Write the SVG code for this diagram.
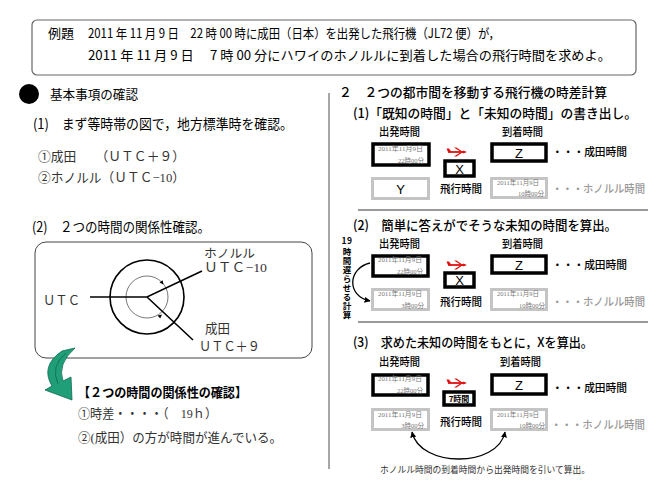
<svg xmlns="http://www.w3.org/2000/svg" xmlns:xlink="http://www.w3.org/1999/xlink" width="669" height="489" viewBox="0 0 669 489">
<style>
text{font-family:"Noto Sans CJK JP","Liberation Sans",sans-serif;fill:#000}
.ser{font-family:"Liberation Serif","Noto Sans CJK JP",serif;fill:#333}
.h13{font-size:13px}
.h14{font-size:14px}
.sub{font-size:13px;font-weight:500}
.lbl{font-size:11px;font-weight:500}
.vt{font-size:8.5px;font-weight:700}
.tiny{font-family:"Liberation Serif","Noto Sans CJK JP",serif;font-size:6.5px;fill:#777}
.big{font-family:"Liberation Sans",sans-serif;font-size:13px;text-anchor:middle}
.gtx{fill:#999}
.blk{fill:#fff;stroke:#000;stroke-width:3.5}
.gry{fill:#fff;stroke:#c4c4c4;stroke-width:3}
.sep{stroke:#9a9a9a;stroke-width:2}
.con{fill:none;stroke:#000;stroke-width:1.3}
</style>
<defs>
<marker id="ah" viewBox="0 0 10 10" refX="9" refY="5" markerWidth="6" markerHeight="6" orient="auto-start-reverse" markerUnits="userSpaceOnUse">
<path d="M0,0 L10,5 L0,10 Z" fill="#000"/>
</marker>
<g id="plane">
<path d="M0,0 H17" stroke="#e01010" stroke-width="1.8"/>
<path d="M19,0 L15,-1.5 L15,1.5 Z" fill="#e01010"/>
<path d="M13,0 L6,-4.5 L8.5,-4.5 L15,0 L8.5,4.5 L6,4.5 Z" fill="#e01010"/>
<path d="M0,0 L-1.5,-3.5 L1,-3.5 L3.5,0 Z" fill="#e01010"/>
</g>
</defs>
<rect width="669" height="489" fill="#fff"/>

<g id="header">
<rect x="32" y="20" width="604" height="55" rx="5" fill="#fff" stroke="#666" stroke-width="1.2"/>
<text x="48" y="38" class="h13">例題</text>
<text x="88" y="38" class="h13" textLength="412" lengthAdjust="spacingAndGlyphs">2011 年 11 月 9 日　22 時 00 時に成田（日本）を出発した飛行機（JL72 便）が，</text>
<text x="88" y="60" class="h13" textLength="523" lengthAdjust="spacingAndGlyphs">2011 年 11 月 9 日　 7 時 00 分にハワイのホノルルに到着した場合の飛行時間を求めよ。</text>
</g>

<g id="left-basics">
<circle cx="29" cy="94" r="10" fill="#000"/>
<text x="50" y="99" class="h13" textLength="88" lengthAdjust="spacingAndGlyphs">基本事項の確認</text>
<text x="33" y="129" class="h14" textLength="260" lengthAdjust="spacingAndGlyphs">(1)　まず等時帯の図で，地方標準時を確認。</text>
<text x="38" y="161" class="ser h13" textLength="147" lengthAdjust="spacingAndGlyphs">①成田　　（ＵＴＣ＋９）</text>
<text x="38" y="182" class="ser h13" textLength="147" lengthAdjust="spacingAndGlyphs">②ホノルル（ＵＴＣ−10）</text>
<text x="32" y="232" class="h14" textLength="178" lengthAdjust="spacingAndGlyphs">(2)　２つの時間の関係性確認。</text>
</g>

<g id="utc-diagram">
<rect x="35" y="242" width="277" height="116" rx="11" fill="#fff" stroke="#444" stroke-width="1"/>
<circle cx="147" cy="297" r="37" fill="none" stroke="#000" stroke-width="1.6"/>
<circle cx="147" cy="297" r="21" fill="none" stroke="#555" stroke-width="0.8"/>
<path d="M90,297 H147 L202,271 M147,297 L193,340" fill="none" stroke="#000" stroke-width="1.6"/>
<path d="M163.5,284.5 L162.6,280.2 L159.5,282.6 Z M162,314.6 L160.2,318.6 L157.6,315.6 Z" fill="#000"/>
<text x="43" y="305" class="ser h13" textLength="37" lengthAdjust="spacingAndGlyphs">ＵＴＣ</text>
<text x="204" y="258" class="ser" font-size="12" textLength="51" lengthAdjust="spacingAndGlyphs">ホノルル</text>
<text x="204" y="272" class="ser h13" textLength="63" lengthAdjust="spacingAndGlyphs">ＵＴＣ−10</text>
<text x="205" y="333" class="ser h13" textLength="25" lengthAdjust="spacingAndGlyphs">成田</text>
<text x="199" y="351" class="ser h13" textLength="61" lengthAdjust="spacingAndGlyphs">ＵＴＣ＋９</text>
</g>

<g id="relation-summary">
<text x="78" y="397" class="h13" font-weight="700" textLength="169" lengthAdjust="spacingAndGlyphs">【２つの時間の関係性の確認】</text>
<text x="78" y="418" class="ser h13" textLength="139" lengthAdjust="spacingAndGlyphs">①時差・・・・（　19ｈ）</text>
<text x="78" y="442" class="ser h13" textLength="204" lengthAdjust="spacingAndGlyphs">②(成田）の方が時間が進んでいる。</text>
</g>

<g id="dividers">
<line x1="329" y1="93" x2="329" y2="469" stroke="#888" stroke-width="1.5"/>
<line x1="358" y1="210" x2="648" y2="210" class="sep"/>
<line x1="358" y1="322" x2="648" y2="322" class="sep"/>
</g>

<g id="right-headings">
<text x="339" y="97" class="sub" textLength="268" lengthAdjust="spacingAndGlyphs">２　２つの都市間を移動する飛行機の時差計算</text>
<text x="353" y="118" class="sub" textLength="284" lengthAdjust="spacingAndGlyphs">(1)「既知の時間」と「未知の時間」の書き出し。</text>
<text x="353" y="230" class="sub" textLength="264" lengthAdjust="spacingAndGlyphs">(2)　簡単に答えがでそうな未知の時間を算出。</text>
<text x="353" y="347" class="sub" textLength="240" lengthAdjust="spacingAndGlyphs">(3)　求めた未知の時間をもとに，Xを算出。</text>
</g>

<!-- Section 1 -->
<g id="s1-labels">
<text x="379" y="136" class="lbl" textLength="41" lengthAdjust="spacingAndGlyphs">出発時間</text>
<text x="502" y="136" class="lbl" textLength="41" lengthAdjust="spacingAndGlyphs">到着時間</text>
<text x="440" y="193" class="lbl" font-size="12" textLength="42" lengthAdjust="spacingAndGlyphs">飛行時間</text>
<text x="552" y="156" class="lbl" textLength="75" lengthAdjust="spacingAndGlyphs">・・・成田時間</text>
<text x="552" y="193" class="lbl gtx" font-weight="400" textLength="93" lengthAdjust="spacingAndGlyphs">・・・ホノルル時間</text>
</g>
<g id="s1-dep">
<rect x="373" y="144" width="56" height="21" class="blk"/>
<text x="378" y="150.5" class="tiny" textLength="45" lengthAdjust="spacingAndGlyphs">2011年11月9日</text>
<text x="424" y="163" class="tiny" text-anchor="end">22時00分</text>
</g>
<g id="s1-arr-z">
<rect x="492" y="144" width="54" height="17" class="blk"/>
<text x="519" y="157.5" class="big">Z</text>
</g>
<g id="s1-x">
<rect x="445" y="161" width="29" height="15" class="blk"/>
<text x="459.5" y="173.5" class="big" font-size="12">X</text>
</g>
<g id="s1-dep-y">
<rect x="372.5" y="178.5" width="56" height="20" class="gry"/>
<text x="400.5" y="193.5" class="big">Y</text>
</g>
<g id="s1-arr-hon">
<rect x="491.5" y="178.5" width="55" height="19" class="gry"/>
<text x="497" y="185" class="tiny" textLength="42" lengthAdjust="spacingAndGlyphs">2011年11月9日</text>
<text x="544" y="196" class="tiny" text-anchor="end">10時00分</text>
</g>

<!-- Section 2 -->
<g id="s2-labels">
<text x="379" y="248" class="lbl" textLength="41" lengthAdjust="spacingAndGlyphs">出発時間</text>
<text x="502" y="248" class="lbl" textLength="41" lengthAdjust="spacingAndGlyphs">到着時間</text>
<text x="440" y="306" class="lbl" font-size="12" textLength="42" lengthAdjust="spacingAndGlyphs">飛行時間</text>
<text x="552" y="269" class="lbl" textLength="75" lengthAdjust="spacingAndGlyphs">・・・成田時間</text>
<text x="552" y="306" class="lbl gtx" font-weight="400" textLength="93" lengthAdjust="spacingAndGlyphs">・・・ホノルル時間</text>
</g>
<g id="s2-vertical-note">
<text x="347" y="243.5" class="vt" text-anchor="middle" letter-spacing="0.5">19</text>
<text x="347" y="247.5" class="vt" writing-mode="vertical-rl" letter-spacing="0.5">時間遅らせる計算</text>
</g>
<g id="s2-dep">
<rect x="373" y="256" width="55" height="20" class="blk"/>
<text x="378" y="261.5" class="tiny" textLength="44" lengthAdjust="spacingAndGlyphs">2011年11月9日</text>
<text x="423" y="274" class="tiny" text-anchor="end">22時00分</text>
</g>
<g id="s2-arr-z">
<rect x="492" y="256" width="54" height="17" class="blk"/>
<text x="519" y="269.5" class="big">Z</text>
</g>
<g id="s2-x">
<rect x="445" y="273" width="29" height="14" class="blk"/>
<text x="459.5" y="285" class="big" font-size="12">X</text>
</g>
<g id="s2-dep-hon">
<rect x="372.5" y="289.5" width="56" height="20" class="gry"/>
<text x="378" y="296" class="tiny" textLength="44" lengthAdjust="spacingAndGlyphs">2011年11月9日</text>
<text x="424" y="307.5" class="tiny" text-anchor="end">3時00分</text>
</g>
<g id="s2-arr-hon">
<rect x="491.5" y="289.5" width="55" height="20" class="gry"/>
<text x="497" y="296" class="tiny" textLength="42" lengthAdjust="spacingAndGlyphs">2011年11月9日</text>
<text x="545" y="307.5" class="tiny" text-anchor="end">10時00分</text>
</g>

<!-- Section 3 -->
<g id="s3-labels">
<text x="379" y="366" class="lbl" textLength="41" lengthAdjust="spacingAndGlyphs">出発時間</text>
<text x="500" y="366" class="lbl" textLength="41" lengthAdjust="spacingAndGlyphs">到着時間</text>
<text x="440" y="426" class="lbl" font-size="12" textLength="42" lengthAdjust="spacingAndGlyphs">飛行時間</text>
<text x="552" y="392" class="lbl" textLength="75" lengthAdjust="spacingAndGlyphs">・・・成田時間</text>
<text x="551" y="429" class="lbl gtx" font-weight="400" textLength="94" lengthAdjust="spacingAndGlyphs">・・・ホノルル時間</text>
<text x="380" y="472.5" class="ser" font-size="9" textLength="210" lengthAdjust="spacingAndGlyphs">ホノルル時間の到着時間から出発時間を引いて算出。</text>
</g>
<g id="s3-dep">
<rect x="373" y="375" width="55" height="20" class="blk"/>
<text x="378" y="380.5" class="tiny" textLength="44" lengthAdjust="spacingAndGlyphs">2011年11月9日</text>
<text x="423" y="393" class="tiny" text-anchor="end">22時00分</text>
</g>
<g id="s3-arr-z">
<rect x="492" y="375" width="54" height="19" class="blk"/>
<text x="519" y="389.5" class="big">Z</text>
</g>
<g id="s3-x">
<rect x="444" y="392" width="30" height="13" class="blk"/>
<text x="459" y="401.5" font-size="8" font-weight="700" text-anchor="middle">7時間</text>
</g>
<g id="s3-dep-hon">
<rect x="372.5" y="409.5" width="56" height="20" class="gry"/>
<text x="378" y="416.5" class="tiny" textLength="44" lengthAdjust="spacingAndGlyphs">2011年11月9日</text>
<text x="424" y="427.5" class="tiny" text-anchor="end">3時00分</text>
</g>
<g id="s3-arr-hon">
<rect x="491.5" y="409.5" width="55" height="20" class="gry"/>
<text x="497" y="416.5" class="tiny" textLength="42" lengthAdjust="spacingAndGlyphs">2011年11月9日</text>
<text x="545" y="427.5" class="tiny" text-anchor="end">10時00分</text>
</g>

<g id="connectors">
<use xlink:href="#plane" href="#plane" x="448" y="152"/>
<use xlink:href="#plane" href="#plane" x="448" y="265"/>
<use xlink:href="#plane" href="#plane" x="448" y="383"/>
<path d="M370,263 C348,268 346,296 370,301" class="con" marker-end="url(#ah)"/>
<path d="M412,432 C420,468 498,468 505,432" class="con" marker-start="url(#ah)" marker-end="url(#ah)"/>
<path d="M62,351 L75,348 Q57,364 63,381 L71,377 L72,400 L45,390 L52,386 Q40,366 62,351 Z" fill="#1f9e78" stroke="#0f6a50" stroke-width="0.8"/>
<path d="M66,353 Q50,366 58,384" fill="none" stroke="#0f6a50" stroke-width="0.8"/>
</g>
</svg>
